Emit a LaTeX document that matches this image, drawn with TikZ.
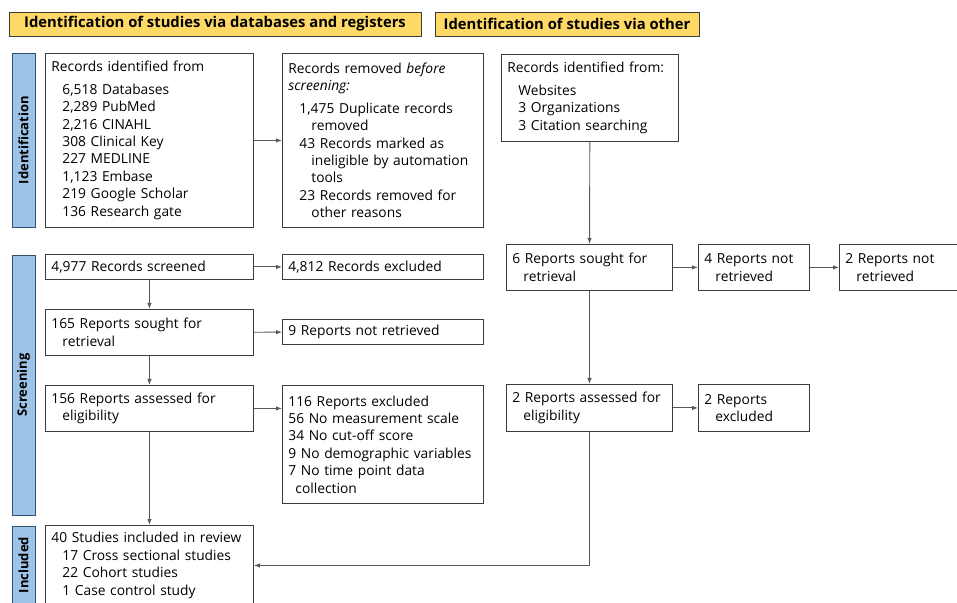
\documentclass[tikz,border=0pt]{standalone}
\usepackage{fontspec}
\setmainfont{Open Sans}
\usepackage{xcolor}
\usetikzlibrary{positioning,arrows.meta}
\definecolor{hdrbg}{HTML}{FFD966}
\definecolor{sidebg}{HTML}{9DC3E6}
\definecolor{sideln}{HTML}{33506E}
\definecolor{boxln}{HTML}{3C3C3C}
\newcommand{\ia}{\hspace*{11pt}}
\newcommand{\ib}{\hspace*{23pt}}

\tikzset{
  box/.style={draw=boxln, line width=0.9pt, anchor=north west, align=left, inner xsep=6pt, inner ysep=0pt,
    font=\fontsize{13.8}{17.4}\selectfont},
  hdr/.style={draw=boxln, line width=0.9pt, fill=hdrbg, inner sep=0pt, minimum height=24pt,
    font=\fontsize{14.8}{16}\selectfont\bfseries},
  side/.style={draw=sideln, line width=0.9pt, fill=sidebg, inner sep=0pt, rotate=90, minimum height=23pt,
    font=\fontsize{13}{15}\selectfont\bfseries},
  link/.style={draw=boxln!85, line width=0.9pt, -{Latex[length=6pt,width=4.5pt]}}
}

\begin{document}
\begin{tikzpicture}[x=10pt, y=10pt]
  \useasboundingbox (0,0) rectangle (95.7,60.2);
  \clip (0,0) rectangle (95.7,60.2);

  % Headers
  \node[hdr, minimum width=412pt] (hdrdb) at (21.5,57.8) {Identification of studies via databases and registers};
  \node[hdr, minimum width=264pt] (hdroth) at (56.7,57.8) {Identification of studies via other};

  % Phase bars
  \node[side, minimum width=174pt] (sideid) at (2.35,46.2) {Identification};
  \node[side, minimum width=260pt] (sidescr) at (2.35,21.7) {Screening};
  \node[side, minimum width=78pt] (sideinc) at (2.35,3.7) {Included};

  % IDENTIFICATION: databases and registers
  \node[box, minimum width=208pt, minimum height=174pt, text width=196pt] (recdb) at (4.5,54.9)
    {Records identified from\\[5pt]
     \ia 6,518 Databases\\ \ia 2,289 PubMed\\ \ia 2,216 CINAHL\\ \ia 308 Clinical Key\\
     \ia 227 MEDLINE\\ \ia 1,123 Embase\\ \ia 219 Google Scholar\\ \ia 136 Research gate};
  \node[box, minimum width=201pt, minimum height=174pt, text width=189pt] (recrm) at (28.2,54.9)
    {Records removed \textit{before}\\ \textit{screening:}\\[5pt]
     \ia 1,475 Duplicate records\\ \ib removed\\
     \ia 43 Records marked as\\ \ib ineligible by automation\\ \ib tools\\
     \ia 23 Records removed for\\ \ib other reasons};
  % IDENTIFICATION: other methods
  \node[box, minimum width=177pt, minimum height=87pt, text width=165pt] (recoth) at (50.1,54.8)
    {Records identified from:\\[5pt]
     \ia Websites\\ \ia 3 Organizations\\ \ia 3 Citation searching};

  % SCREENING: databases and registers
  \node[box, minimum width=208pt, minimum height=25pt, text width=196pt] (screen) at (4.5,34.8) {4,977 Records screened};
  \node[box, minimum width=201pt, minimum height=25pt, text width=189pt] (recex) at (28.2,34.8) {4,812 Records excluded};
  \node[box, minimum width=208pt, minimum height=46pt, text width=196pt] (sought) at (4.5,29.3)
    {165 Reports sought for\\ \ia retrieval};
  \node[box, minimum width=201pt, minimum height=25pt, text width=189pt] (notret) at (28.2,28.3) {9 Reports not retrieved};
  \node[box, minimum width=208pt, minimum height=46pt, text width=196pt] (assess) at (4.5,21.7)
    {156 Reports assessed for\\ \ia eligibility};
  \node[box, minimum width=201pt, minimum height=118pt, text width=189pt] (repex) at (28.2,21.7)
    {116 Reports excluded\\ 56 No measurement scale\\ 34 No cut-off score\\
     9 No demographic variables\\ 7 No time point data\\ \hspace*{7pt}collection};

  % SCREENING: other methods
  \node[box, minimum width=166pt, minimum height=46pt, text width=154pt] (soughtoth) at (50.6,35.8)
    {6 Reports sought for\\ \ia retrieval};
  \node[box, minimum width=111pt, minimum height=46pt, text width=99pt] (notretoth) at (69.8,35.8)
    {4 Reports not\\ \ia retrieved};
  \node[box, minimum width=136pt, minimum height=46pt, text width=124pt] (notretfin) at (83.9,35.8)
    {2 Reports not\\ \ia retrieved};
  \node[box, minimum width=166pt, minimum height=47pt, text width=154pt] (assessoth) at (50.6,21.8)
    {2 Reports assessed for\\ \ia eligibility};
  \node[box, minimum width=111pt, minimum height=47pt, text width=99pt] (repexoth) at (69.8,21.8)
    {2 Reports\\ \ia excluded};

  % INCLUDED
  \node[box, minimum width=208pt, minimum height=80pt, text width=196pt] (incl) at (4.5,7.7)
    {40 Studies included in review\\ \ia 17 Cross sectional studies\\ \ia 22 Cohort studies\\ \ia 1 Case control study};

  % Connectors
  \draw[link] (recdb) -- (recrm);
  \draw[link] (screen) -- (recex);
  \draw[link] (screen) -- (sought);
  \draw[link] (sought) -- (notret);
  \draw[link] (sought) -- (assess);
  \draw[link] (assess.east) -- (repex.west |- assess.east);
  \draw[link] (assess) -- (incl);
  \draw[link] (recoth) -- (soughtoth);
  \draw[link] (soughtoth) -- (notretoth);
  \draw[link] (notretoth) -- (notretfin);
  \draw[link] (soughtoth) -- (assessoth);
  \draw[link] (assessoth) -- (repexoth);
  \draw[link] (assessoth.south) |- (incl.east);
\end{tikzpicture}
\end{document}
